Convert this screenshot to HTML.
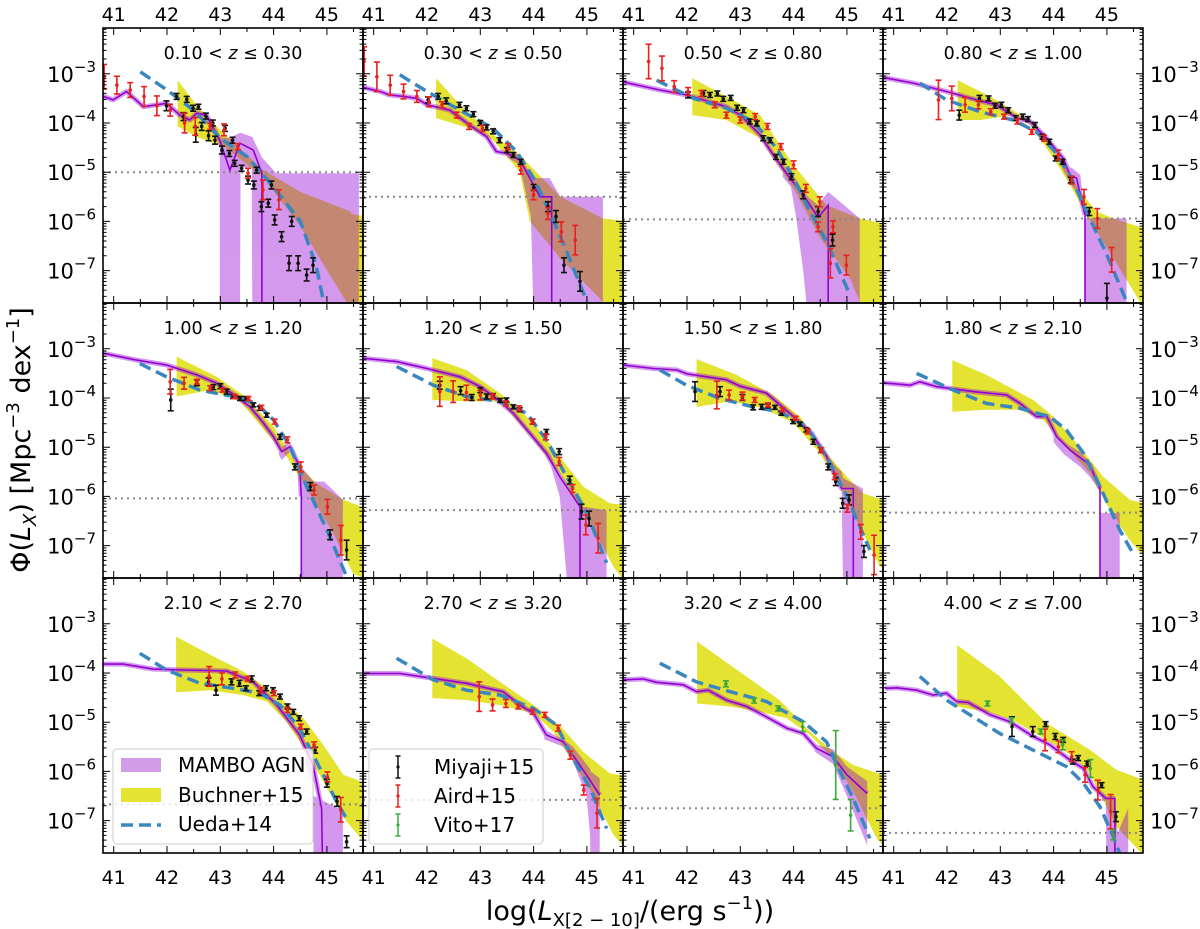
<!DOCTYPE html>
<html><head><meta charset="utf-8">
<style>
html,body{margin:0;padding:0;background:#fff;}
svg{display:block;font-family:"DejaVu Sans","Liberation Sans",sans-serif;}
</style></head>
<body>
<svg id="chart" width="1200" height="929" viewBox="0 0 1200 929" xmlns="http://www.w3.org/2000/svg">
<defs id="defs"></defs>
<g id="panels"></g>
<text transform="translate(30,440) rotate(-90)" text-anchor="middle" font-size="27">Φ(<tspan font-style="italic">L</tspan><tspan font-style="italic" font-size="18" dy="6">X</tspan><tspan dy="-6">) [Mpc</tspan><tspan font-size="18" dy="-11">−3</tspan><tspan dy="11"> dex</tspan><tspan font-size="18" dy="-11">−1</tspan><tspan dy="11">]</tspan></text>
<text x="630" y="920" text-anchor="middle" font-size="27">log(<tspan font-style="italic">L</tspan><tspan font-size="18" dy="6">X[2 − 10]</tspan><tspan dy="-6">/(erg s</tspan><tspan font-size="18" dy="-11">−1</tspan><tspan dy="11">))</tspan></text>
</svg>
<script>
const zLabels = [["0.10","0.30"],["0.30","0.50"],["0.50","0.80"],["0.80","1.00"],["1.00","1.20"],["1.20","1.50"],["1.50","1.80"],["1.80","2.10"],["2.10","2.70"],["2.70","3.20"],["3.20","4.00"],["4.00","7.00"]];
const xTickLabels = ["41","42","43","44","45"];
const yTickLabels = ["−3","−4","−5","−6","−7"];
const limits = [-5.0,-5.5,-5.96,-5.94,-6.04,-6.28,-6.31,-6.33,-6.67,-6.58,-6.75,-7.25];
const mamboLine = [
[[40.8,-3.46],[40.99,-3.53],[41.24,-3.36],[41.56,-3.67],[41.99,-3.6],[42.24,-3.84],[42.43,-3.94],[42.56,-3.8],[42.74,-3.84],[42.99,-4.35],[43.18,-4.96],[43.37,-4.41],[43.62,-4.55],[43.78,-5.02],[43.78,-8]],
[[40.74,-3.26],[41.12,-3.36],[41.3,-3.43],[41.56,-3.46],[41.81,-3.5],[42.0,-3.63],[42.43,-3.74],[42.8,-4.04],[43.12,-4.28],[43.3,-4.58],[43.5,-4.62],[43.74,-4.75],[44.0,-5.26],[44.12,-5.5],[44.34,-5.5],[44.34,-8]],
[[40.78,-3.16],[41.49,-3.33],[42.0,-3.43],[42.3,-3.53],[42.74,-3.67],[43.0,-3.84],[43.37,-4.24],[43.62,-4.65],[43.93,-5.12],[44.18,-5.46],[44.46,-5.92],[44.65,-5.67],[44.65,-8]],
[[40.74,-3.06],[41.37,-3.19],[41.99,-3.36],[42.62,-3.55],[42.93,-3.63],[43.31,-3.9],[43.56,-3.97],[43.87,-4.31],[44.18,-4.72],[44.31,-5.06],[44.43,-5.12],[44.59,-5.87],[44.59,-8]],
[[40.8,-3.09],[41.43,-3.23],[41.99,-3.33],[42.56,-3.53],[42.93,-3.7],[43.31,-3.97],[43.56,-4.18],[43.81,-4.51],[44.0,-4.79],[44.15,-5.09],[44.31,-4.99],[44.49,-5.4],[44.52,-6.0],[44.52,-8]],
[[40.78,-3.19],[41.43,-3.26],[42.0,-3.4],[42.62,-3.57],[43.0,-3.77],[43.37,-4.07],[43.62,-4.31],[43.93,-4.72],[44.24,-5.12],[44.49,-5.6],[44.87,-6.21],[44.87,-8]],
[[40.8,-3.33],[41.37,-3.4],[41.81,-3.43],[42.0,-3.51],[42.74,-3.63],[43.0,-3.76],[43.49,-3.9],[44.0,-4.38],[44.34,-4.72],[44.62,-5.19],[44.9,-5.84],[45.12,-5.84],[45.12,-8]],
[[40.78,-3.69],[41.31,-3.74],[41.49,-3.67],[41.81,-3.77],[42.49,-3.87],[43.12,-3.94],[43.37,-4.11],[43.68,-4.38],[43.87,-4.37],[44.06,-4.79],[44.31,-5.06],[44.68,-5.36],[44.87,-5.84],[44.87,-8]],
[[40.8,-3.82],[41.18,-3.82],[41.74,-3.92],[42.31,-3.94],[43.12,-3.96],[43.62,-4.18],[44.06,-4.65],[44.49,-5.26],[44.74,-5.87],[44.9,-6.75],[44.92,-8]],
[[40.78,-4.01],[41.49,-4.01],[42.12,-4.11],[42.74,-4.21],[43.43,-4.38],[43.74,-4.65],[44.0,-4.82],[44.24,-5.26],[44.56,-5.4],[44.74,-5.67],[44.99,-6.07],[45.24,-6.48]],
[[40.8,-4.14],[41.18,-4.12],[41.43,-4.19],[41.93,-4.24],[42.18,-4.38],[42.4,-4.35],[42.74,-4.55],[43.12,-4.68],[43.49,-4.89],[43.87,-5.12],[44.18,-5.23],[44.43,-5.53],[44.74,-5.7],[45.0,-6.07],[45.38,-6.45]],
[[40.84,-4.31],[41.06,-4.3],[41.43,-4.35],[41.74,-4.45],[41.99,-4.41],[42.18,-4.58],[42.4,-4.6],[42.81,-4.85],[43.18,-4.99],[43.62,-5.29],[43.93,-5.46],[44.31,-5.77],[44.56,-5.94],[44.74,-6.31],[44.98,-6.55],[45.15,-6.55],[45.15,-8]]
];
const mamboExtraX = [[42.99,43.18,43.37,43.38,43.59,43.6,43.78,44.05,45.6],[43.5,43.74,43.95,44.0,44.3,44.5,45.3],[43.8,43.95,44.05,44.18,44.27,44.46,44.65,45.24],[44.1,44.2,44.35,44.5,44.59,44.6,45.37],[44.1,44.15,44.3,44.5,44.52,44.75,44.95,45.3],[44.3,44.49,44.65,44.87,45.37],[44.6,44.8,44.9,44.93,45.3],[44.0,44.2,44.5,44.68,44.87,44.88,45.24],[44.6,44.74,44.75,45.3],[44.2,44.56,44.74,44.99,45.06,45.07,45.24],[44.4,44.74,45.0,45.38],[44.9,44.98,44.99,45.15,45.2,45.4]];
const mamboExtraHi = [[-4.3,-4.3,-4.2,-4.2,-4.28,-4.28,-4.7,-5.02,-5.02],[-4.55,-4.65,-5.1,-5.12,-5.12,-5.5,-5.5],[-4.9,-5.0,-5.15,-5.39,-5.5,-5.67,-5.4,-5.94],[-4.6,-4.85,-4.92,-5.05,-5.94,-5.94,-5.94],[-4.95,-4.99,-4.9,-5.35,-5.4,-5.7,-5.7,-6.07],[-5.1,-5.55,-5.85,-6.2,-6.28],[-5.1,-5.4,-5.5,-5.63,-5.84],[-4.7,-4.9,-5.1,-5.3,-5.8,-6.34,-6.34],[-5.7,-5.87,-6.5,-6.8],[-5.15,-5.35,-5.5,-5.85,-5.95,-6.0,-6.14],[-5.45,-5.55,-5.9,-6.2],[-6.45,-6.5,-6.5,-6.5,-7.26,-6.75]];
const mamboExtraLo = [[-8,-8,-8,-4.9,-4.9,-8,-8,-8,-8],[-4.7,-4.85,-5.9,-8,-8,-8,-8],[-5.1,-5.3,-5.94,-7.0,-8,-8,-8,-8],[-4.75,-5.0,-5.29,-5.5,-5.9,-8,-8],[-5.15,-5.26,-5.1,-5.45,-8,-8,-8,-8],[-5.3,-6.0,-8,-8,-8],[-5.25,-5.7,-5.9,-8,-8],[-4.9,-5.15,-5.4,-5.6,-5.9,-8,-8],[-5.9,-6.2,-8,-8],[-5.35,-5.5,-5.8,-6.48,-7.29,-8,-8],[-5.6,-5.85,-6.5,-7.5],[-6.6,-6.6,-8,-8,-8,-8]];
const buchUp = [
[[42.2,-3.13],[42.6,-3.7],[43.1,-4.25],[43.8,-4.95],[44.5,-5.4],[45.45,-5.8],[45.46,-5.85],[45.75,-5.9]],
[[42.17,-3.09],[42.62,-3.63],[43.24,-4.24],[43.74,-4.65],[44.5,-5.5],[45.3,-5.94],[45.75,-6.0]],
[[42.1,-3.09],[42.74,-3.46],[43.37,-3.84],[44.0,-4.86],[44.62,-5.67],[45.24,-5.94],[45.75,-6.06]],
[[42.2,-3.13],[42.81,-3.46],[43.43,-3.87],[44.0,-4.48],[44.5,-5.4],[44.81,-5.8],[45.12,-5.94],[45.75,-6.16]],
[[42.18,-3.16],[42.93,-3.57],[43.43,-3.94],[44.0,-4.58],[44.43,-5.33],[44.81,-5.74],[45.31,-6.07],[45.75,-6.25]],
[[42.1,-3.19],[42.74,-3.43],[43.37,-3.9],[44.0,-4.51],[44.49,-5.19],[44.93,-5.8],[45.43,-6.14],[45.75,-6.18]],
[[42.18,-3.21],[42.93,-3.53],[43.62,-3.94],[44.12,-4.38],[44.62,-5.12],[45.0,-5.6],[45.31,-5.94],[45.75,-6.1]],
[[42.1,-3.23],[42.74,-3.53],[43.62,-4.04],[44.0,-4.38],[44.49,-4.99],[44.93,-5.6],[45.43,-6.07],[45.75,-6.16]],
[[42.17,-3.26],[42.81,-3.63],[43.43,-3.97],[44.06,-4.45],[44.56,-4.92],[44.93,-5.46],[45.31,-6.07],[45.75,-6.25]],
[[42.1,-3.3],[42.74,-3.7],[43.37,-4.18],[44.0,-4.65],[44.49,-5.06],[44.93,-5.6],[45.43,-6.04],[45.75,-6.1]],
[[42.19,-3.36],[42.81,-3.84],[43.74,-4.55],[44.24,-5.12],[44.74,-5.6],[45.12,-5.87],[45.75,-6.1]],
[[42.19,-3.43],[42.99,-4.07],[43.87,-5.02],[44.68,-5.56],[45.18,-5.97],[45.75,-6.2]]
];
const buchDown = [
[[42.2,-4.07],[42.6,-4.3],[43.1,-4.5],[43.8,-5.1],[44.5,-6.1],[45.4,-7.7],[45.75,-8]],
[[42.17,-3.9],[42.8,-4.11],[43.24,-4.35],[43.74,-4.99],[43.93,-6.0],[44.5,-6.75],[45.3,-7.63],[45.32,-8],[45.75,-8]],
[[42.1,-3.84],[42.74,-3.94],[43.37,-4.31],[44.0,-5.33],[44.5,-6.34],[45.06,-7.16],[45.24,-7.63],[45.36,-8],[45.75,-8]],
[[42.2,-3.94],[42.62,-3.94],[43.24,-3.84],[43.56,-4.04],[44.0,-4.72],[44.31,-5.26],[44.62,-5.87],[45.12,-6.75],[45.62,-7.63],[45.75,-7.8]],
[[42.18,-3.97],[42.81,-3.84],[43.37,-4.07],[43.93,-4.79],[44.25,-5.2],[44.75,-6.07],[45.12,-6.75],[45.49,-7.56],[45.75,-7.7]],
[[42.1,-4.04],[42.74,-4.07],[43.37,-4.07],[44.0,-4.85],[44.49,-5.53],[44.87,-6.21],[45.24,-6.89],[45.5,-7.43],[45.75,-7.8]],
[[42.18,-4.18],[42.81,-4.07],[43.43,-4.21],[44.0,-4.51],[44.49,-5.12],[44.87,-5.8],[45.24,-6.62],[45.59,-7.36],[45.75,-7.6]],
[[42.1,-4.28],[42.74,-4.24],[43.37,-4.24],[43.81,-4.45],[44.24,-4.99],[44.68,-5.53],[45.06,-6.28],[45.43,-6.89],[45.75,-7.3]],
[[42.17,-4.39],[42.81,-4.35],[43.43,-4.45],[43.87,-4.58],[44.24,-4.99],[44.62,-5.6],[45.0,-6.34],[45.37,-7.02],[45.75,-7.5]],
[[42.1,-4.51],[42.74,-4.55],[43.37,-4.65],[44.0,-4.82],[44.37,-5.19],[44.74,-5.8],[45.12,-6.48],[45.5,-7.29],[45.75,-7.6]],
[[42.19,-4.62],[42.81,-4.68],[43.37,-4.79],[43.87,-4.92],[44.31,-5.26],[44.68,-5.67],[45.12,-6.41],[45.56,-7.36],[45.75,-7.6]],
[[42.19,-4.68],[42.74,-4.79],[43.24,-4.96],[43.87,-5.36],[44.37,-5.7],[44.68,-6.04],[44.93,-6.58],[45.18,-7.12],[45.68,-7.7]]
];
const ueda = [
[[41.5,-2.96],[42.0,-3.33],[42.5,-3.74],[43.0,-4.31],[43.5,-4.68],[44.0,-5.3],[44.5,-6.0],[44.8,-6.9],[44.95,-7.7]],
[[41.49,-3.02],[42.0,-3.36],[42.62,-3.74],[43.24,-4.11],[43.68,-4.58],[44.0,-5.12],[44.3,-5.8],[44.62,-6.61],[45.0,-7.63]],
[[41.43,-3.13],[42.12,-3.5],[42.74,-3.7],[43.24,-3.97],[43.68,-4.51],[44.0,-5.12],[44.31,-5.8],[44.62,-6.41],[45.06,-7.5]],
[[41.49,-3.19],[41.99,-3.53],[42.62,-3.77],[43.24,-3.94],[43.68,-4.18],[44.0,-4.55],[44.31,-5.06],[44.62,-5.8],[45.0,-6.68],[45.37,-7.63]],
[[41.49,-3.3],[41.99,-3.57],[42.62,-3.84],[43.24,-3.97],[43.68,-4.11],[44.0,-4.45],[44.31,-4.99],[44.62,-5.8],[45.0,-6.68],[45.37,-7.63]],
[[41.43,-3.36],[42.12,-3.74],[42.74,-3.97],[43.37,-4.07],[43.87,-4.31],[44.24,-4.85],[44.62,-5.6],[45.0,-6.34],[45.37,-7.35]],
[[41.49,-3.43],[41.99,-3.74],[42.62,-4.01],[43.24,-4.18],[43.74,-4.28],[44.24,-4.58],[44.62,-5.19],[45.0,-6.0],[45.43,-7.09]],
[[41.43,-3.5],[42.12,-3.84],[42.74,-4.11],[43.37,-4.21],[43.93,-4.38],[44.24,-4.65],[44.56,-5.12],[44.87,-5.8],[45.24,-6.68],[45.49,-7.16]],
[[41.49,-3.6],[41.99,-3.94],[42.62,-4.21],[43.24,-4.31],[43.74,-4.41],[44.12,-4.65],[44.49,-5.12],[44.87,-5.94],[45.18,-6.61],[45.4,-7.02]],
[[41.43,-3.7],[42.12,-4.14],[42.74,-4.35],[43.37,-4.45],[44.0,-4.72],[44.43,-5.06],[44.74,-5.74],[45.06,-6.34],[45.37,-7.16]],
[[41.49,-3.8],[42.18,-4.18],[42.81,-4.38],[43.49,-4.58],[44.18,-4.99],[44.62,-5.4],[44.81,-5.87],[45.12,-6.55],[45.43,-7.36]],
[[41.49,-4.07],[41.99,-4.55],[42.49,-4.89],[42.99,-5.23],[43.62,-5.57],[44.24,-5.9],[44.56,-6.24],[44.87,-6.72],[45.12,-7.33],[45.24,-7.67]]
];
const miyaji = [
[[41.99,-3.65,.1],[42.18,-3.46,.06],[42.31,-3.87,.08],[42.37,-3.52,.06],[42.49,-3.7,.06],[42.54,-4.24,.15],[42.59,-3.67,.05],[42.65,-4.07,.08],[42.73,-3.86,.06],[42.78,-4.26,.1],[42.86,-4.0,.06],[42.9,-4.35,.08],[43.03,-4.55,.08],[43.09,-4.11,.06],[43.17,-4.62,.06],[43.23,-4.35,.06],[43.27,-4.82,.06],[43.4,-4.92,.06],[43.52,-5.16,.08],[43.63,-5.26,.08],[43.68,-4.96,.06],[43.77,-5.7,.1],[43.9,-5.63,.08],[43.96,-5.26,.08],[44.02,-5.97,.1],[44.15,-6.31,.1],[44.34,-6.0,.1],[44.29,-6.85,.15],[44.46,-6.85,.15],[44.62,-7.09,.12],[44.74,-6.89,.15]],
[[42.02,-3.53,.06],[42.21,-3.46,.06],[42.36,-3.55,.06],[42.61,-3.63,.05],[42.74,-3.7,.05],[42.87,-3.82,.05],[43.0,-4.0,.05],[43.12,-4.09,.05],[43.24,-4.17,.05],[43.36,-4.35,.05],[43.5,-4.55,.05],[43.62,-4.65,.05],[43.76,-4.79,.05],[44.0,-5.31,.06],[44.27,-5.7,.1],[44.42,-5.9,.12],[44.57,-6.89,.15],[44.87,-7.22,.2]],
[[42.02,-3.43,.06],[42.31,-3.4,.06],[42.43,-3.43,.05],[42.57,-3.4,.05],[42.68,-3.51,.05],[42.82,-3.49,.05],[42.94,-3.69,.05],[43.06,-3.74,.05],[43.18,-3.97,.05],[43.31,-4.01,.05],[43.43,-4.31,.05],[43.56,-4.35,.05],[43.67,-4.69,.05],[43.81,-4.79,.05],[43.96,-5.09,.06],[44.18,-5.46,.08],[44.46,-5.8,.1],[44.73,-6.38,.12]],
[[42.23,-3.84,.1],[42.61,-3.5,.06],[42.78,-3.5,.05],[42.9,-3.65,.05],[43.02,-3.63,.05],[43.15,-3.74,.05],[43.29,-3.9,.05],[43.42,-3.87,.05],[43.52,-3.92,.05],[43.65,-4.04,.05],[43.79,-4.28,.05],[43.92,-4.38,.05],[44.04,-4.72,.05],[44.17,-4.79,.05],[44.32,-5.16,.06],[44.67,-5.8,.08],[45.0,-7.56,.3]],
[[42.07,-4.04,.22],[42.56,-3.69,.06],[42.87,-3.78,.05],[43.0,-3.76,.05],[43.12,-3.87,.05],[43.24,-3.97,.04],[43.37,-4.01,.04],[43.48,-4.01,.04],[43.62,-4.14,.04],[43.74,-4.21,.04],[43.87,-4.35,.04],[44.12,-4.79,.05],[44.4,-5.4,.06],[44.69,-5.8,.08],[45.06,-6.78,.1],[45.37,-7.09,.2]],
[[42.24,-3.74,.08],[42.63,-3.85,.08],[42.84,-3.99,.06],[43.0,-3.84,.05],[43.12,-3.97,.05],[43.24,-3.96,.05],[43.37,-4.05,.04],[43.49,-4.04,.04],[43.62,-4.18,.04],[43.74,-4.24,.04],[43.98,-4.48,.05],[44.24,-4.69,.05],[44.48,-5.09,.06],[44.68,-5.67,.08],[44.9,-6.31,.15],[45.04,-6.45,.15]],
[[42.15,-3.87,.2],[42.62,-3.87,.1],[43.04,-3.99,.06],[43.24,-4.19,.05],[43.4,-4.18,.05],[43.52,-4.16,.04],[43.65,-4.19,.04],[43.77,-4.31,.04],[43.99,-4.48,.04],[44.12,-4.53,.04],[44.24,-4.65,.04],[44.37,-4.89,.05],[44.51,-5.06,.05],[44.65,-5.4,.06],[44.79,-5.7,.08],[44.92,-6.14,.1],[45.04,-6.07,.1],[45.32,-7.12,.12]],
[],
[[42.78,-4.18,.08],[42.92,-4.35,.1],[43.21,-4.18,.06],[43.36,-4.21,.06],[43.48,-4.31,.05],[43.59,-4.12,.06],[43.73,-4.41,.05],[43.86,-4.31,.05],[43.99,-4.35,.05],[44.12,-4.48,.05],[44.26,-4.68,.05],[44.37,-4.79,.05],[44.48,-4.92,.05],[44.62,-5.19,.05],[44.78,-5.57,.06],[45.0,-6.24,.08],[45.19,-6.61,.1],[45.37,-7.43,.12]],
[],[],
[[43.22,-5.09,.2],[43.61,-5.19,.1],[43.85,-5.04,.05],[44.03,-5.29,.06],[44.18,-5.36,.05],[44.36,-5.8,.05],[44.46,-5.73,.05],[44.63,-5.84,.05],[44.9,-6.28,.05],[45.17,-6.92,.1]]
];
const aird = [
[[40.82,-3.06,.25],[41.06,-3.23,.18],[41.31,-3.33,.15],[41.57,-3.46,.2],[41.81,-3.65,.2],[42.06,-3.74,.12],[42.33,-4.0,.2],[42.53,-4.07,.18],[42.81,-4.07,.06],[43.07,-4.14,.12],[43.33,-4.48,.06],[43.52,-5.02,.1],[43.8,-5.36,.2],[44.1,-5.56,.2]],
[[40.82,-2.75,.3],[41.06,-3.06,.3],[41.31,-3.23,.2],[41.56,-3.36,.15],[41.81,-3.46,.12],[42.04,-3.57,.1],[42.28,-3.63,.06],[42.56,-3.84,.06],[42.79,-4.07,.06],[43.04,-4.11,.06],[43.52,-4.48,.06],[43.76,-4.96,.08],[44.0,-5.46,.1],[44.27,-5.84,.12],[44.52,-6.21,.2],[44.78,-6.38,.3]],
[[41.28,-2.75,.35],[41.53,-2.89,.25],[41.76,-3.26,.12],[42.02,-3.36,.08],[42.27,-3.4,.06],[42.52,-3.63,.06],[42.74,-3.84,.06],[43.0,-3.94,.06],[43.28,-3.87,.06],[43.51,-4.07,.06],[43.76,-4.48,.06],[44.0,-4.85,.08],[44.23,-5.33,.08],[44.49,-5.6,.1],[44.46,-6.11,.1],[44.74,-6.11,.12],[44.69,-6.85,.3],[44.99,-6.89,.2]],
[[41.84,-3.53,.4],[42.09,-3.5,.25],[42.34,-3.63,.15],[42.59,-3.63,.08],[42.82,-3.77,.06],[43.07,-3.87,.05],[43.32,-3.97,.05],[43.59,-4.18,.05],[43.82,-4.31,.06],[44.09,-4.65,.1],[44.34,-5.16,.08],[44.57,-5.5,.15],[44.82,-5.94,.2],[45.09,-6.78,.25]],
[[42.06,-3.67,.25],[42.32,-3.7,.12],[42.56,-3.67,.05],[42.81,-3.8,.05],[43.04,-3.84,.04],[43.27,-3.97,.04],[43.53,-4.01,.04],[43.77,-4.19,.04],[44.02,-4.48,.05],[44.26,-4.85,.06],[44.51,-5.4,.1],[44.76,-5.87,.1],[45.01,-6.21,.15],[45.26,-6.89,.3]],
[[42.24,-3.87,.3],[42.49,-3.87,.22],[42.74,-3.89,.15],[43.0,-3.94,.1],[43.23,-3.97,.05],[43.48,-4.11,.05],[43.73,-4.21,.05],[43.98,-4.48,.05],[44.23,-4.79,.06],[44.48,-5.29,.08],[44.73,-5.84,.08],[44.98,-6.58,.2],[45.21,-6.85,.3]],
[[42.56,-3.94,.28],[42.79,-3.94,.1],[43.04,-3.96,.08],[43.27,-4.04,.05],[43.52,-4.14,.04],[43.79,-4.24,.04],[44.04,-4.41,.04],[44.27,-4.68,.05],[44.52,-5.06,.05],[44.77,-5.6,.06],[45.01,-6.24,.08],[45.26,-6.72,.15],[45.51,-7.19,.4]],
[],
[[42.79,-4.07,.2],[43.03,-4.12,.12],[43.28,-4.04,.06],[43.51,-4.12,.05],[43.76,-4.35,.05],[44.01,-4.41,.05],[44.26,-4.75,.05],[44.51,-5.09,.05],[44.76,-5.46,.06],[45.01,-6.11,.1],[45.26,-6.78,.25]],
[[42.98,-4.48,.3],[43.23,-4.65,.12],[43.48,-4.62,.08],[43.71,-4.68,.05],[43.98,-4.79,.05],[44.21,-4.85,.05],[44.46,-5.12,.06],[44.69,-5.67,.08],[44.94,-6.38,.1],[45.19,-6.85,.3]],
[],
[[43.84,-5.36,.22],[44.09,-5.5,.12],[44.34,-5.7,.1],[44.59,-6.07,.15],[44.83,-6.38,.2],[45.07,-6.82,.35]]
];
const vito = [[],[],[],[],[],[],[],[],[],[],
[[42.73,-4.22,.06],[43.26,-4.56,.05],[43.71,-4.72,.05],[44.17,-5.09,.1],[44.79,-5.87,.7],[45.07,-6.89,.32]],
[[42.76,-4.62,.05],[43.21,-4.96,.05],[43.76,-5.19,.05],[44.17,-5.46,.1],[44.69,-5.94,.18],[45.12,-7.29,.1]]
];

const NS="http://www.w3.org/2000/svg";
const svg=document.getElementById('chart');
const panelsG=document.getElementById('panels');
const defs=document.getElementById('defs');
const PW=260, PH=275, X0=103, Y0=28, DX=53.3, DY=49.2;
function mk(tag,attrs,parent){const e=document.createElementNS(NS,tag);for(const k in attrs)e.setAttribute(k,attrs[k]);(parent||panelsG).appendChild(e);return e;}
function pathOf(pts,sx,sy){return pts.map((p,i)=>(i?'L':'M')+sx(p[0]).toFixed(1)+','+sy(p[1]).toFixed(1)).join(' ');}

for(let i=0;i<12;i++){
  const c=i%4, r=Math.floor(i/4);
  const L=X0+PW*c, T=Y0+PH*r;
  const sx=x=>L+10.7+(x-41)*DX;
  const sy=y=>T+95+(-4-y)*DY;
  const g=mk('g',{});
  
  
  const cp=mk('clipPath',{id:'cp'+i},defs);
  mk('rect',{x:L,y:T,width:PW,height:PH},cp);
  const inner=mk('g',{'clip-path':'url(#cp'+i+')'},g);
  const up=buchUp[i], dn=buchDown[i];
  const bd=pathOf(up,sx,sy)+' '+dn.slice().reverse().map(p=>'L'+sx(p[0]).toFixed(1)+','+sy(p[1]).toFixed(1)).join(' ')+'Z';
  const bp=mk('path',{d:bd,fill:'#e4e332'},inner);
  
  
  const bandG=mk('g',{opacity:0.4},inner);
  
  
  const ex=mamboExtraX[i], eh=mamboExtraHi[i], el=mamboExtraLo[i];
  let d='';
  ex.forEach((x,k)=>{d+=(k?'L':'M')+sx(x).toFixed(1)+','+sy(eh[k]).toFixed(1);});
  for(let k=ex.length-1;k>=0;k--) d+='L'+sx(ex[k]).toFixed(1)+','+sy(el[k]).toFixed(1);
  mk('path',{d:d+'Z',fill:'#9400d3'},bandG);
  const ml=mamboLine[i].filter(p=>p[1]>-7.9);
  mk('path',{d:pathOf(ml,sx,sy),fill:'none',stroke:'#9400d3','stroke-width':5,'stroke-linejoin':'round'},bandG);
  const lim=mk('line',{x1:L,x2:L+PW,y1:sy(limits[i]),y2:sy(limits[i]),stroke:'#888','stroke-width':2,'stroke-dasharray':'2,4'},inner);
  
  
  const mlp=mk('path',{d:pathOf(mamboLine[i],sx,sy),fill:'none',stroke:'#9400d3','stroke-width':1.6},inner);
  
  
  const up2=mk('path',{d:pathOf(ueda[i],sx,sy),fill:'none',stroke:'#3a87c0','stroke-width':3.5,'stroke-dasharray':'12,6'},inner);
  
  
  [[miyaji[i],'#111','miyaji-point'],[aird[i],'#e8201e','aird-point'],[vito[i],'#3ca83c','vito-point']].forEach(([arr,col,nm])=>{
    arr.forEach(p=>{
      const x=sx(p[0]), y1=sy(p[1]+p[2]), y2=sy(p[1]-p[2]), y=sy(p[1]);
      const eg=mk('g',{stroke:col,'stroke-width':1.6},inner);
      
      
      mk('line',{x1:x,x2:x,y1:y1,y2:y2},eg);
      mk('line',{x1:x-3,x2:x+3,y1:y1,y2:y1},eg);
      mk('line',{x1:x-3,x2:x+3,y1:y2,y2:y2},eg);
      mk('circle',{cx:x,cy:y,r:1.8,fill:col,stroke:'none'},eg);
    });
  });
  mk('rect',{x:L,y:T,width:PW,height:PH,fill:'none',stroke:'#000','stroke-width':1.6},g);
  let td='';
  for(let v=41;v<=45.5;v+=0.5){const x=sx(v), len=(v%1===0)?7:4; td+=`M${x},${T}v${len}M${x},${T+PH}v${-len}`;}
  for(let n=-8;n<=-2;n++){for(let k=1;k<=9;k++){const y=n+Math.log10(k); const py=sy(y); if(py<T+0.5||py>T+PH-0.5)continue; const len=(k===1)?7:3.5; td+=`M${L},${py}h${len}M${L+PW},${py}h${-len}`;}}
  mk('path',{d:td,stroke:'#000','stroke-width':1,fill:'none'},g);
  const t=mk('text',{x:L+PW/2,y:T+31,'text-anchor':'middle','font-size':17.5},g);
  
  
  const a=document.createElementNS(NS,'tspan');a.textContent=zLabels[i][0]+' < ';t.appendChild(a);
  const b=document.createElementNS(NS,'tspan');b.setAttribute('font-style','italic');b.textContent='z';t.appendChild(b);
  const cc=document.createElementNS(NS,'tspan');cc.textContent=' ≤ '+zLabels[i][1];t.appendChild(cc);
  xTickLabels.forEach((lab,k)=>{
    const x=sx(41+k);
    if(r===0){const tl=mk('text',{x:x,y:21,'text-anchor':'middle','font-size':19},g);tl.textContent=lab;
      }
    if(r===2){const tl=mk('text',{x:x,y:884,'text-anchor':'middle','font-size':19},g);tl.textContent=lab;
      }
  });
  yTickLabels.forEach((lab,k)=>{
    const py=sy(-3-k);
    if(c===0||c===3){
      const right=(c===3);
      const tl=mk('text',{x:right?1150:96,y:py+8,'text-anchor':right?'start':'end','font-size':21},g);
      
      
      const s1=document.createElementNS(NS,'tspan');s1.textContent='10';tl.appendChild(s1);
      const s2=document.createElementNS(NS,'tspan');s2.setAttribute('font-size','15');s2.setAttribute('dy','-10');s2.textContent=lab;tl.appendChild(s2);
    }
  });
}

function legendBox(x,y,w,h,name){const lg=mk('g',{},svg);
  mk('rect',{x:x,y:y,width:w,height:h,rx:4,fill:'#fff','fill-opacity':0.8,stroke:'#ccc','stroke-width':1},lg);return lg;}
const lg1=legendBox(113,749,200,95,'legend-models');
mk('rect',{x:121,y:758,width:40,height:14,fill:'#d39ce9'},lg1);
mk('rect',{x:121,y:788,width:40,height:14,fill:'#e4e332'},lg1);
mk('line',{x1:121,x2:161,y1:825,y2:825,stroke:'#3a87c0','stroke-width':3.5,'stroke-dasharray':'12,6'},lg1);
[['MAMBO AGN',772],['Buchner+15',802],['Ueda+14',831]].forEach(([s,y])=>{const t=mk('text',{x:178,y:y,'font-size':20},lg1);t.textContent=s;
  });
const lg2=legendBox(369,749,174,95,'legend-data');
[['#111','Miyaji+15',767],['#e8201e','Aird+15',796],['#3ca83c','Vito+17',825]].forEach(([col,s,y])=>{
  const eg=mk('g',{stroke:col,'stroke-width':1.5},lg2);
  mk('line',{x1:398,x2:398,y1:y-11,y2:y+11},eg);
  mk('line',{x1:395.5,x2:400.5,y1:y-11,y2:y-11},eg);
  mk('line',{x1:395.5,x2:400.5,y1:y+11,y2:y+11},eg);
  mk('circle',{cx:398,cy:y,r:1.6,fill:col,stroke:'none'},eg);
  const t=mk('text',{x:434,y:y+7,'font-size':20},lg2);t.textContent=s;
  
});
</script>
</body></html>
